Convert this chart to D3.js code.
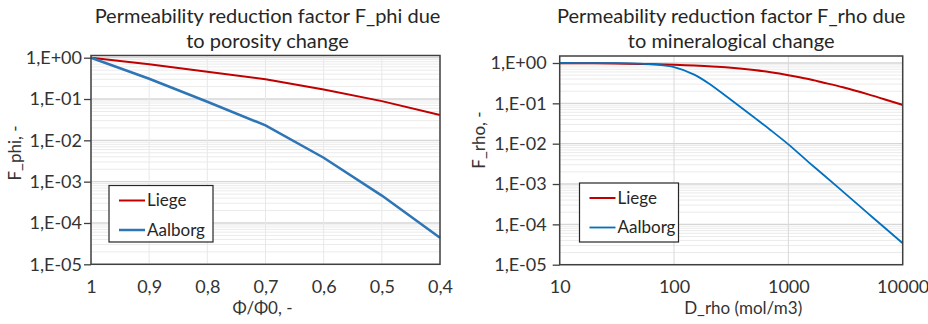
<!DOCTYPE html>
<html>
<head>
<meta charset="utf-8">
<script src="https://cdn.jsdelivr.net/npm/d3@7"></script>
<style>
  body { margin: 0; background: #fff; }
  svg { display: block; font-family: Lato, "Open Sans", sans-serif; }
</style>
</head>
<body>
<div id="viz"></div>
<script>
// --- data ---
var phiRatio = [1, 0.9, 0.8, 0.7, 0.6, 0.5, 0.4];
var phiLiege = [1, 0.69, 0.46, 0.30, 0.17, 0.089, 0.041];
var phiAalborg = [1, 0.31, 0.086, 0.023, 0.0038, 0.00046, 0.000044];

var dRho = [10, 20, 30, 50, 70, 100, 150, 200, 300, 500, 700, 1000, 1500, 2000, 3000, 5000, 7000, 10000];
var rhoLiege = [0.99, 0.98, 0.97, 0.95, 0.935, 0.91, 0.87, 0.83, 0.77, 0.67, 0.59, 0.5, 0.4, 0.33, 0.25, 0.167, 0.125, 0.091];
var rhoAalborg = [0.999, 0.996, 0.99, 0.965, 0.91, 0.79, 0.515, 0.316, 0.135, 0.045, 0.0216, 0.0096, 0.0035, 0.00175, 0.00065, 0.000185, 0.000081, 0.000034];

var seriesNames = ['Liege', 'Aalborg'];
var yTicks = [1, 0.1, 0.01, 0.001, 0.0001, 0.00001];
var yTickLabels = ['1,E+00', '1,E-01', '1,E-02', '1,E-03', '1,E-04', '1,E-05'];
var phiTicks = [1, 0.9, 0.8, 0.7, 0.6, 0.5, 0.4];
var phiTickLabels = ['1', '0,9', '0,8', '0,7', '0,6', '0,5', '0,4'];
var rhoTicks = [10, 100, 1000, 10000];
var rhoTickLabels = ['10', '100', '1000', '10000'];

var width = 928, height = 324;
var red = '#c00000';

var svg = d3.select('#viz').append('svg')
  .attr('width', width)
  .attr('height', height);

function drawChart(cfg) {
  var g = svg.append('g');

  var yScale = d3.scaleLog()
    .domain([1e-5, 1])
    .range([cfg.yBot, cfg.yTop]);

  // minor horizontal gridlines
  var minors = [];
  for (var e = -5; e < 0; e++) {
    for (var m = 2; m <= 9; m++) minors.push(m * Math.pow(10, e));
  }
  g.selectAll('.minor').data(minors).enter().append('line')
    .attr('x1', cfg.x0).attr('x2', cfg.x1)
    .attr('y1', function(d) { return yScale(d); })
    .attr('y2', function(d) { return yScale(d); })
    .attr('stroke', '#ebebeb').attr('stroke-width', 1);

  // major horizontal gridlines
  g.selectAll('.major').data(yTicks).enter().append('line')
    .attr('x1', cfg.x0).attr('x2', cfg.x1)
    .attr('y1', function(d) { return yScale(d); })
    .attr('y2', function(d) { return yScale(d); })
    .attr('stroke', '#d6d6d6').attr('stroke-width', 1.3);

  // vertical gridlines
  g.selectAll('.vgrid').data(cfg.xTicks).enter().append('line')
    .attr('x1', function(d) { return cfg.xScale(d); })
    .attr('x2', function(d) { return cfg.xScale(d); })
    .attr('y1', cfg.frameTop).attr('y2', cfg.yBot)
    .attr('stroke', cfg.vgridColor).attr('stroke-width', 1);

  // series
  var line = d3.line()
    .x(function(d) { return cfg.xScale(d[0]); })
    .y(function(d) { return yScale(d[1]); })
    .curve(cfg.curve);

  cfg.series.forEach(function(s) {
    g.append('path')
      .datum(d3.zip(cfg.xs, s.values))
      .attr('d', line)
      .attr('fill', 'none')
      .attr('stroke', s.color)
      .attr('stroke-width', s.width);
  });

  // frame
  g.append('rect')
    .attr('x', cfg.x0).attr('y', cfg.frameTop)
    .attr('width', cfg.x1 - cfg.x0)
    .attr('height', cfg.yBot - cfg.frameTop)
    .attr('fill', 'none')
    .attr('stroke', '#404040')
    .attr('stroke-width', 1.5);

  // y axis
  var yAxis = d3.axisLeft(yScale)
    .tickValues(yTicks)
    .tickSize(7)
    .tickPadding(cfg.yPad)
    .tickFormat(function(d, i) { return yTickLabels[i]; });
  var ya = g.append('g')
    .attr('transform', 'translate(' + cfg.x0 + ',0)')
    .call(yAxis);
  ya.select('.domain').remove();
  ya.selectAll('.tick line').attr('stroke', '#404040').attr('stroke-width', 1.3);
  ya.selectAll('.tick text')
    .attr('fill', '#333')
    .style('font-size', '18px')
    .style('font-family', 'Lato, "Open Sans", sans-serif');

  // x axis
  var xAxis = d3.axisBottom(cfg.xScale)
    .tickValues(cfg.xTicks)
    .tickSize(0)
    .tickPadding(16)
    .tickFormat(function(d, i) { return cfg.xTickLabels[i]; });
  var xa = g.append('g')
    .attr('transform', 'translate(0,' + cfg.yBot + ')')
    .call(xAxis);
  xa.select('.domain').remove();
  xa.selectAll('.tick text')
    .attr('fill', '#333')
    .style('font-size', '18px')
    .style('font-family', 'Lato, "Open Sans", sans-serif');

  // titles
  var title = g.append('text')
    .attr('text-anchor', 'middle')
    .attr('fill', '#262626')
    .style('font-size', '20px');
  cfg.title.forEach(function(t, i) {
    title.append('tspan')
      .attr('x', (cfg.x0 + cfg.x1) / 2 + cfg.titleDx)
      .attr('y', 23 + i * 24.5)
      .text(t);
  });

  g.append('text')
    .attr('x', (cfg.x0 + cfg.x1) / 2 + cfg.xTitleDx)
    .attr('y', 314)
    .attr('text-anchor', 'middle')
    .attr('fill', '#333')
    .style('font-size', '17px')
    .text(cfg.xTitle);

  g.append('text')
    .attr('transform', 'translate(' + cfg.yTitleX + ',' + cfg.yTitleY + ') rotate(-90)')
    .attr('text-anchor', 'middle')
    .attr('dy', '0.35em')
    .attr('fill', '#333')
    .style('font-size', '17px')
    .text(cfg.yTitle);

  // legend
  var lg = g.append('g');
  lg.append('rect')
    .attr('x', cfg.legend.x).attr('y', cfg.legend.y)
    .attr('width', cfg.legend.w).attr('height', cfg.legend.h)
    .attr('fill', '#fff')
    .attr('stroke', '#262626')
    .attr('stroke-width', 1.2);
  cfg.series.forEach(function(s, i) {
    var ly = cfg.legend.y + 15 + i * 29.5;
    lg.append('line')
      .attr('x1', cfg.legend.x + 10).attr('x2', cfg.legend.x + 36)
      .attr('y1', ly).attr('y2', ly)
      .attr('stroke', s.color).attr('stroke-width', s.width);
    lg.append('text')
      .attr('x', cfg.legend.x + 38)
      .attr('y', ly)
      .attr('dy', '0.35em')
      .attr('fill', '#262626')
      .style('font-size', '17px')
      .text(s.name);
  });
}

drawChart({
  x0: 91, x1: 440, yTop: 57.7, yBot: 264.3, frameTop: 55.5,
  xScale: d3.scaleLinear().domain([1, 0.4]).range([91, 440]),
  xTicks: phiTicks, xTickLabels: phiTickLabels,
  vgridColor: '#e8e8e8',
  xs: phiRatio,
  curve: d3.curveLinear,
  series: [
    { name: seriesNames[0], values: phiLiege, color: red, width: 2 },
    { name: seriesNames[1], values: phiAalborg, color: '#2e75b6', width: 2.5 }
  ],
  title: ['Permeability reduction factor F_phi due', 'to porosity change'],
  titleDx: 2, yPad: 2,
  xTitle: 'Φ/Φ0, -', xTitleDx: -3,
  yTitle: 'F_phi, -', yTitleX: 15, yTitleY: 153,
  legend: { x: 109, y: 185.5, w: 104, h: 56.5 }
});

drawChart({
  x0: 559.7, x1: 902.7, yTop: 63, yBot: 264.7, frameTop: 56,
  xScale: d3.scaleLog().domain([10, 10000]).range([559.7, 902.7]),
  xTicks: rhoTicks, xTickLabels: rhoTickLabels,
  vgridColor: '#d9d9d9',
  xs: dRho,
  curve: d3.curveMonotoneX,
  series: [
    { name: seriesNames[0], values: rhoLiege, color: red, width: 2 },
    { name: seriesNames[1], values: rhoAalborg, color: '#0070c0', width: 1.8 }
  ],
  title: ['Permeability reduction factor F_rho due', 'to mineralogical change'],
  titleDx: 0, yPad: 6,
  xTitle: 'D_rho (mol/m3)', xTitleDx: 12,
  yTitle: 'F_rho, -', yTitleX: 479, yTitleY: 140,
  legend: { x: 579.5, y: 183, w: 99, h: 59 }
});
</script>
</body>
</html>
